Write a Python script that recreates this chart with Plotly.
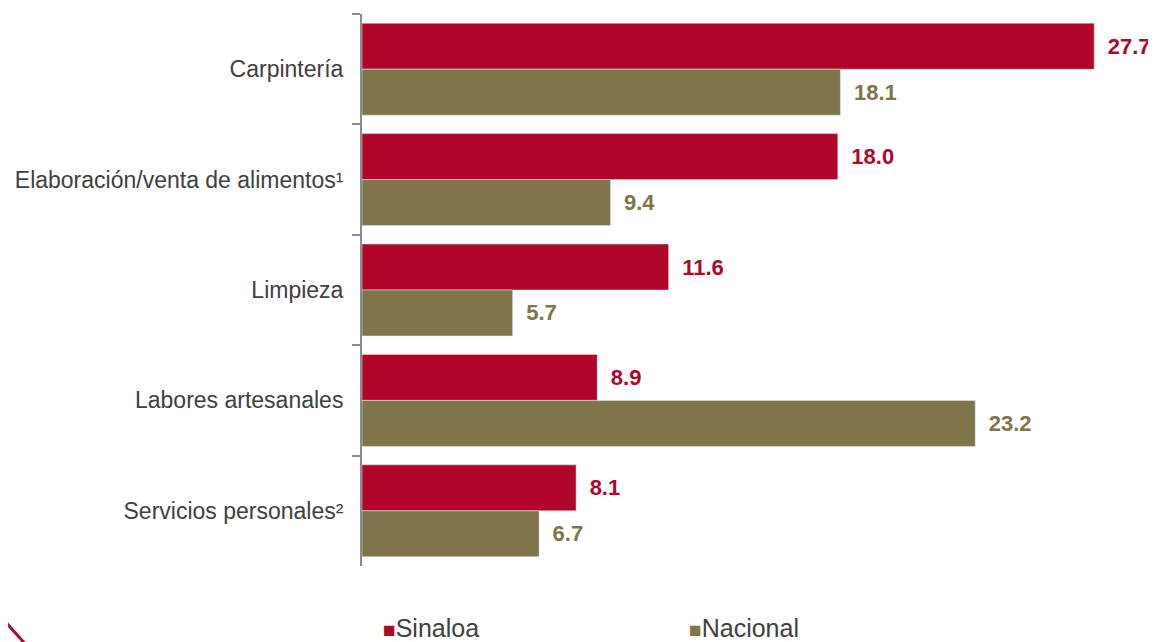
import plotly.graph_objects as go

categorias = ["Carpintería", "Elaboración/venta de alimentos¹", "Limpieza",
              "Labores artesanales", "Servicios personales²"]
sinaloa = [27.7, 18.0, 11.6, 8.9, 8.1]
nacional = [18.1, 9.4, 5.7, 23.2, 6.7]

ROJO = "#B0062C"
OLIVO = "#7F744A"

# la página deja 8 px de margen alrededor de la figura
OFF = 8
W, H = 1156 - OFF, 642 - OFF
ML, MR, MT, MB = 362 - OFF, 1, 14 - OFF, 642 - 566


def px_x(px):
    return (px - OFF - ML) / (W - ML - MR)


def px_y(py):
    return (H - MB - (py - OFF)) / (H - MT - MB)


fig = go.Figure()
for nombre, valores, color in [("Sinaloa", sinaloa, ROJO), ("Nacional", nacional, OLIVO)]:
    fig.add_trace(go.Bar(y=categorias, x=valores, orientation="h", name=nombre,
                         marker=dict(color=color),
                         texttemplate="\u00a0\u2009%{x:.1f}", textposition="outside",
                         textfont=dict(color=color, size=22, family="Liberation Sans", weight="bold"),
                         cliponaxis=False, constraintext="none"))

fig.update_layout(
    width=W, height=H,
    margin=dict(l=ML, r=MR, t=MT, b=MB, autoexpand=False),
    barmode="group", bargap=0.167, bargroupgap=0,
    plot_bgcolor="white", paper_bgcolor="white",
    showlegend=False,
    font=dict(family="Liberation Sans", color="#404040"),
)
fig.update_xaxes(range=[0, 30], visible=False)
fig.update_yaxes(autorange="reversed", showline=True, linecolor="#8c8c8c", linewidth=2,
                 ticks="outside", ticklen=8, tickcolor="#8c8c8c", tickwidth=2,
                 tickson="boundaries", ticklabelstandoff=12, automargin=False,
                 tickfont=dict(size=23, color="#404040"), showgrid=False)

# leyenda
for nombre, color, x0 in [("Sinaloa", ROJO, 381), ("Nacional", OLIVO, 687)]:
    fig.add_annotation(xref="paper", yref="paper", x=px_x(x0), y=px_y(628),
                       xanchor="left", yanchor="middle", showarrow=False,
                       text=f"<span style='color:{color};font-size:21px'>■</span>{nombre}",
                       font=dict(size=25, color="#404040"))

# arco decorativo
fig.add_shape(type="path", xref="paper", yref="paper",
              path=f"M {px_x(-6)},{px_y(610)} Q {px_x(10)},{px_y(626)} {px_x(32)},{px_y(652)}",
              line=dict(color=ROJO, width=3))

fig.write_html("out.html")
